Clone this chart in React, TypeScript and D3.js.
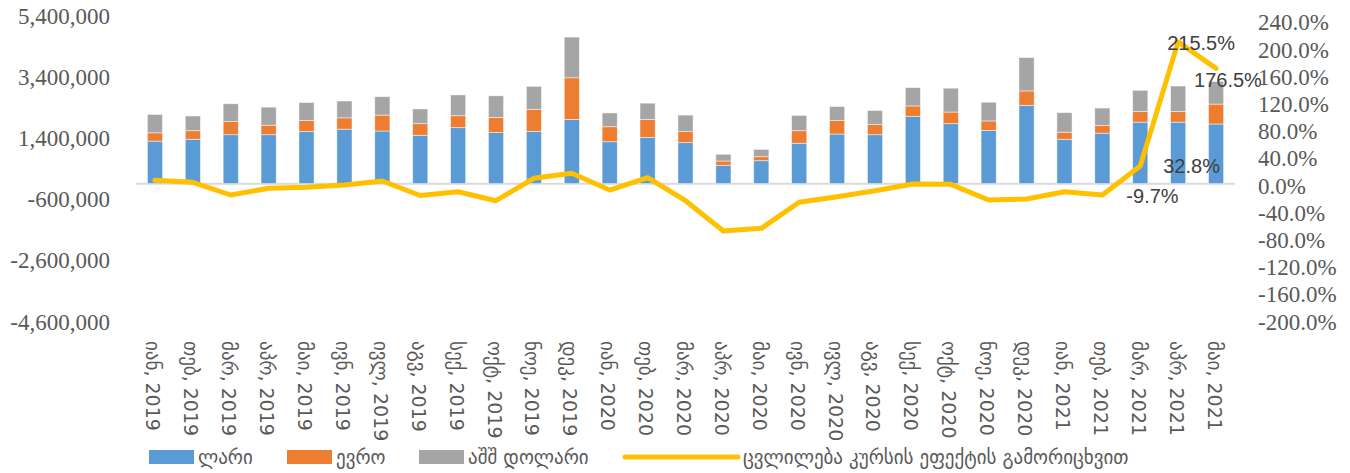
import { useEffect, useRef } from "react";
import * as d3 from "d3";

const categories = [
  "იან, 2019", "თებ, 2019", "მარ, 2019", "აპრ, 2019", "მაი, 2019", "ივნ, 2019",
  "ივლ, 2019", "აგვ, 2019", "სექ, 2019", "ოქტ, 2019", "ნოე, 2019", "დეკ, 2019",
  "იან, 2020", "თებ, 2020", "მარ, 2020", "აპრ, 2020", "მაი, 2020", "ივნ, 2020",
  "ივლ, 2020", "აგვ, 2020", "სექ, 2020", "ოქტ, 2020", "ნოე, 2020", "დეკ, 2020",
  "იან, 2021", "თებ, 2021", "მარ, 2021", "აპრ, 2021", "მაი, 2021",
];

const lari = [
  1390000, 1450000, 1600000, 1600000, 1700000, 1780000, 1720000, 1580000, 1830000, 1670000,
  1710000, 2100000, 1370000, 1510000, 1340000, 600000, 750000, 1320000, 1620000, 1600000,
  2200000, 1960000, 1740000, 2560000, 1450000, 1650000, 2010000, 2010000, 1950000,
];
const euro = [
  270000, 280000, 430000, 310000, 360000, 370000, 520000, 380000, 390000, 490000,
  720000, 1360000, 490000, 590000, 360000, 140000, 130000, 410000, 440000, 330000,
  340000, 380000, 310000, 470000, 230000, 250000, 350000, 350000, 650000,
];
const usd = [
  600000, 480000, 580000, 590000, 590000, 550000, 600000, 480000, 680000, 710000,
  750000, 1330000, 450000, 530000, 540000, 220000, 240000, 500000, 460000, 460000,
  600000, 780000, 610000, 1090000, 640000, 570000, 690000, 830000, 740000,
];
// % change excluding exchange-rate effect
const change = [
  11.9, 9.0, -9.7, 0.1, 1.6, 5.0, 10.9, -10.5, -4.9, -18.1, 14.9, 22.2, -2.4, 15.7,
  -18.1, -62.6, -58.7, -20.4, -12.2, -3.4, 6.5, 6.0, -17.1, -15.6, -4.9, -9.7, 32.8,
  215.5, 176.5,
];

const seriesNames = ["ლარი", "ევრო", "აშშ დოლარი"];
const lineName = "ცვლილება კურსის ეფექტის გამორიცხვით";
const leftTicks = [5400000, 3400000, 1400000, -600000, -2600000, -4600000];
const rightTicks = [240, 200, 160, 120, 80, 40, 0, -40, -80, -120, -160, -200];
// which line points get a label, and where the label sits relative to the point
const labeledPoints = [
  { i: 25, dx: 24, dy: 3 },
  { i: 26, dx: 23, dy: 2 },
  { i: 27, dx: -11, dy: 3 },
  { i: 28, dx: -22, dy: 13 },
];

const colors = ["#5B9BD5", "#ED7D31", "#A5A5A5"];
const lineColor = "#FFC000";

export default function App() {
  const svgRef = useRef(null);

  useEffect(() => {
    const width = 1350;
    const height = 473;
    const plot = { left: 136, right: 1235, top: 18.4, bottom: 324.4 };

    const svg = d3.select(svgRef.current);
    svg.selectAll("*").remove();
    svg.attr("width", width).attr("height", height);

    const x = d3
      .scaleBand()
      .domain(categories)
      .range([plot.left, plot.right])
      .paddingInner(0.6)
      .paddingOuter(0.3);

    const y = d3.scaleLinear().domain([-4600000, 5400000]).range([plot.bottom, plot.top]);
    const y2 = d3.scaleLinear().domain([-200, 250]).range([plot.bottom, plot.top]);

    const rows = categories.map((c, i) => ({ cat: c, s0: lari[i], s1: euro[i], s2: usd[i] }));
    const stack = d3.stack().keys(["s0", "s1", "s2"])(rows);

    // zero gridline
    svg
      .append("line")
      .attr("x1", plot.left)
      .attr("x2", plot.right)
      .attr("y1", y(0))
      .attr("y2", y(0))
      .attr("stroke", "#d9d9d9")
      .attr("stroke-width", 2);

    stack.forEach((layer, k) => {
      svg
        .append("g")
        .selectAll("rect")
        .data(layer)
        .enter()
        .append("rect")
        .attr("x", (d) => x(d.data.cat))
        .attr("width", x.bandwidth())
        .attr("y", (d) => y(d[1]))
        .attr("height", (d) => y(d[0]) - y(d[1]))
        .attr("fill", colors[k])
        .attr("stroke", "#ffffff")
        .attr("stroke-opacity", 0.6)
        .attr("stroke-width", 0.8);
    });

    const cx = (i) => x(categories[i]) + x.bandwidth() / 2;

    const line = d3
      .line()
      .x((d, i) => cx(i))
      .y((d) => y2(d));

    svg
      .append("path")
      .datum(change)
      .attr("d", line)
      .attr("fill", "none")
      .attr("stroke", lineColor)
      .attr("stroke-width", 5)
      .attr("stroke-linejoin", "round")
      .attr("stroke-linecap", "round");

    svg
      .append("g")
      .selectAll("text")
      .data(labeledPoints)
      .enter()
      .append("text")
      .attr("x", (d) => cx(d.i) + d.dx)
      .attr("y", (d) => y2(change[d.i]) + d.dy)
      .attr("dominant-baseline", "middle")
      .attr("font-family", "'Liberation Sans', Arial, sans-serif")
      .attr("font-size", 20)
      .attr("fill", "#404040")
      .text((d) => `${change[d.i].toFixed(1)}%`);

    const fmt = (v) => d3.format(",")(v).replace("−", "-");

    // left axis labels
    svg
      .append("g")
      .selectAll("text")
      .data(leftTicks)
      .enter()
      .append("text")
      .attr("x", 110)
      .attr("y", (d) => y(d))
      .attr("text-anchor", "end")
      .attr("dominant-baseline", "middle")
      .attr("font-family", "'Liberation Serif', 'DejaVu Serif', serif")
      .attr("font-size", 23)
      .attr("fill", "#595959")
      .text((d) => fmt(d));

    // right axis labels
    svg
      .append("g")
      .selectAll("text")
      .data(rightTicks)
      .enter()
      .append("text")
      .attr("x", 1258)
      .attr("y", (d) => y2(d))
      .attr("dominant-baseline", "middle")
      .attr("font-family", "'Liberation Serif', 'DejaVu Serif', serif")
      .attr("font-size", 23)
      .attr("fill", "#595959")
      .text((d) => `${d.toFixed(1)}%`);

    // category labels, rotated
    svg
      .append("g")
      .selectAll("text")
      .data(categories)
      .enter()
      .append("text")
      .attr("transform", (d) => `translate(${x(d) + x.bandwidth() / 2 - 3},341) rotate(90)`)
      .attr("dominant-baseline", "middle")
      .attr("font-family", "'DejaVu Sans', sans-serif")
      .attr("font-size", 19)
      .attr("fill", "#595959")
      .text((d) => d);

    // legend
    const legendFont = "'DejaVu Sans', sans-serif";
    const legendX = [149, 287, 419];
    seriesNames.forEach((name, k) => {
      svg
        .append("rect")
        .attr("x", legendX[k])
        .attr("y", 450)
        .attr("width", 45)
        .attr("height", 14)
        .attr("fill", colors[k]);
      svg
        .append("text")
        .attr("x", legendX[k] + 49)
        .attr("y", 458)
        .attr("dominant-baseline", "middle")
        .attr("font-family", legendFont)
        .attr("font-size", 19)
        .attr("fill", "#595959")
        .text(name);
    });
    svg
      .append("line")
      .attr("x1", 625)
      .attr("x2", 738)
      .attr("y1", 457)
      .attr("y2", 457)
      .attr("stroke", lineColor)
      .attr("stroke-width", 5)
      .attr("stroke-linecap", "round");
    svg
      .append("text")
      .attr("x", 743)
      .attr("y", 458)
      .attr("dominant-baseline", "middle")
      .attr("font-family", legendFont)
      .attr("font-size", 19)
      .attr("fill", "#595959")
      .text(lineName);
  }, []);

  return (
    <svg
      ref={svgRef}
      style={{ position: "absolute", left: 0, top: 0, display: "block", background: "#fff" }}
    ></svg>
  );
}
